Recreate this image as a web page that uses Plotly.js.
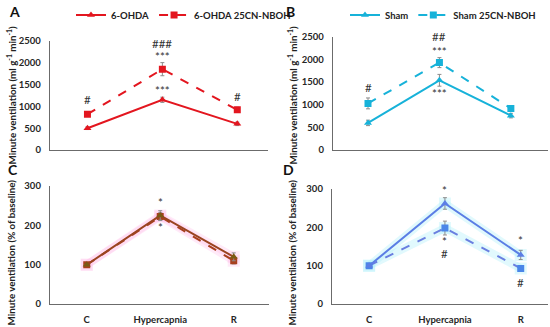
<!DOCTYPE html>
<html><head><meta charset="utf-8">
<script src="https://cdn.plot.ly/plotly-3.0.1.min.js"></script>
<style>html,body{margin:0;padding:0;background:#fff}#chart{width:550px;height:327px}</style>
</head><body><div id="chart"></div>
<script>
// ---- data ----
const categories = ['C', 'Hypercapnia', 'R'];

const aOhda = [500, 1150, 600];
const aOhdaErr = [30, 60, 40];
const aOhda25 = [820, 1850, 920];
const aOhda25Err = [40, 150, 60];

const bSham = [600, 1540, 760];
const bShamErr = [60, 130, 50];
const bSham25 = [1030, 1930, 920];
const bSham25Err = [120, 110, 40];

const cOhda = [100, 225, 120];
const cOhdaErr = [0, 12, 10];
const cOhda25 = [100, 222, 110];
const cOhda25Err = [0, 10, 8];

const dSham = [100, 262, 128];
const dShamErr = [0, 15, 12];
const dSham25 = [100, 198, 93];
const dSham25Err = [0, 18, 6];

const absTicks = [0, 500, 1000, 1500, 2000, 2500];
const pctTicks = [0, 100, 200, 300];

// significance marks
const sigCats = ['C', 'Hypercapnia', 'Hypercapnia', 'Hypercapnia', 'R'];
const sigA = [1160, 2440, 2150, 1365, 1230];
const sigAText = ['#', '###', '***', '***', '#'];
const sigBCats = ['C', 'Hypercapnia', 'Hypercapnia', 'Hypercapnia'];
const sigB = [1380, 2500, 2170, 1250];
const sigBText = ['#', '##', '***', '***'];
const sigCCats = ['Hypercapnia', 'Hypercapnia'];
const sigC = [257, 194];
const sigCText = ['*', '*'];
const sigDCats = ['Hypercapnia', 'Hypercapnia', 'Hypercapnia', 'R', 'R'];
const sigD = [295, 162, 132, 166, 57];
const sigDText = ['*', '*', '#', '*', '#'];

// ---- styling ----
const FONT = 'Lato, "Open Sans", sans-serif';
const errStyle = arr => ({type: 'data', array: arr, visible: true, color: '#8c8c8c', thickness: 1, width: 2});

function series(x, y, err, name, color, symbol, dash, xa, ya, legend, markerColor) {
  const t = {
    x: x, y: y, name: name, type: 'scatter', mode: 'lines+markers',
    xaxis: xa, yaxis: ya, showlegend: !!legend,
    line: {color: color, width: 2, dash: dash},
    marker: {symbol: symbol, size: 7, color: markerColor || color},
    error_y: errStyle(err), hoverinfo: 'skip'
  };
  if (legend) t.legend = legend;
  return t;
}
function glow(x, y, color, xa, ya) {
  return {x: x, y: y, type: 'scatter', mode: 'lines+markers', xaxis: xa, yaxis: ya,
    showlegend: false, hoverinfo: 'skip',
    line: {color: color, width: 8}, marker: {size: 12, symbol: 'square', color: color}};
}

const traces = [
  series(categories, aOhda, aOhdaErr, '6-OHDA', '#e3161f', 'triangle-up', 'solid', 'x', 'y', 'legend'),
  series(categories, aOhda25, aOhda25Err, '6-OHDA 25CN-NBOH', '#e3161f', 'square', 'dash', 'x', 'y', 'legend'),
  series(categories, bSham, bShamErr, 'Sham', '#17b2d9', 'triangle-up', 'solid', 'x2', 'y2', 'legend2'),
  series(categories, bSham25, bSham25Err, 'Sham 25CN-NBOH', '#17b2d9', 'square', 'dash', 'x2', 'y2', 'legend2'),
  glow(categories, cOhda, 'rgba(255,195,235,0.35)', 'x3', 'y3'),
  glow(categories, cOhda25, 'rgba(255,195,235,0.35)', 'x3', 'y3'),
  glow(categories, dSham, 'rgba(180,240,250,0.4)', 'x4', 'y4'),
  glow(categories, dSham25, 'rgba(180,240,250,0.4)', 'x4', 'y4'),
  series(categories, cOhda25, cOhda25Err, '', '#a8401e', 'square', 'dash', 'x3', 'y3', null),
  series(categories, cOhda, cOhdaErr, '', '#9a4420', 'triangle-up', 'solid', 'x3', 'y3', null, '#7a5a14'),
  series(categories, dSham25, dSham25Err, '', '#6a7fe0', 'square', 'dash', 'x4', 'y4', null, '#4a86e8'),
  series(categories, dSham, dShamErr, '', '#5b7ee5', 'triangle-up', 'solid', 'x4', 'y4', null)
];

const tickFont = {family: FONT, size: 9.5, color: '#262626', weight: 'bold'};
function xax(domain, range, showLabels, anchor) {
  return {domain: domain, range: range, type: 'category', anchor: anchor, showgrid: false, zeroline: false,
    showline: true, linecolor: '#6b6b6b', linewidth: 1.2, ticks: showLabels ? 'outside' : '',
    ticklen: 6, tickcolor: 'rgba(0,0,0,0)',
    showticklabels: showLabels, tickfont: tickFont, fixedrange: true};
}
function yax(domain, range, tickvals, anchor) {
  return {domain: domain, range: range, tickvals: tickvals, anchor: anchor, showgrid: false, zeroline: false,
    showline: true, linecolor: '#6b6b6b', linewidth: 1.2, ticks: 'outside', ticklen: 6,
    tickcolor: 'rgba(0,0,0,0)', tickfont: tickFont, fixedrange: true};
}

const annotations = [];
function addSig(cats, ys, texts, xref, yref) {
  for (let i = 0; i < cats.length; i++) {
    annotations.push({x: cats[i], y: ys[i], xref: xref, yref: yref, text: texts[i], showarrow: false,
      font: {family: FONT, size: 11.5, color: '#333333'}});
  }
}
addSig(sigCats, sigA, sigAText, 'x', 'y');
addSig(sigBCats, sigB, sigBText, 'x2', 'y2');
addSig(sigCCats, sigC, sigCText, 'x3', 'y3');
addSig(sigDCats, sigD, sigDText, 'x4', 'y4');

const letterFont = {family: FONT, size: 14, color: '#111', weight: 'bold'};
[['A', 14, 10], ['B', 290, 10], ['C', 13, 169], ['D', 288, 169]].forEach(([t, px, py]) => {
  annotations.push({text: t, x: px / 550, y: 1 - py / 327, xref: 'paper', yref: 'paper',
    showarrow: false, font: letterFont, xanchor: 'center', yanchor: 'middle'});
});
const titleFont = {family: FONT, size: 9.8, color: '#222', weight: 'bold'};
[['Minute ventilation (ml g<sup>-1</sup> min<sup>-1</sup>)', 11, 94],
 ['Minute ventilation (ml g<sup>-1</sup> min<sup>-1</sup>)', 292, 94],
 ['Minute ventilation (% of baseline)', 11, 252],
 ['Minute ventilation (% of baseline)', 292, 252]].forEach(([t, px, py]) => {
  annotations.push({text: t, x: px / 550, y: 1 - py / 327, xref: 'paper', yref: 'paper',
    showarrow: false, font: titleFont, textangle: -90, xanchor: 'center', yanchor: 'middle'});
});

const legFont = {family: FONT, size: 9.5, color: '#222', weight: 'bold'};
const layout = {
  width: 550, height: 327, margin: {l: 0, r: 0, t: 0, b: 0},
  paper_bgcolor: '#fff', plot_bgcolor: '#fff',
  font: {family: FONT},
  xaxis: xax([50 / 550, 268 / 550], [-0.5, 2.41], false, 'y'),
  yaxis: yax([1 - 149 / 327, 1 - 39 / 327], [0, 2500], absTicks, 'x'),
  xaxis2: xax([333 / 550, 548 / 550], [-0.49, 2.52], false, 'y2'),
  yaxis2: yax([1 - 149 / 327, 1 - 35 / 327], [0, 2500], absTicks, 'x2'),
  xaxis3: xax([50 / 550, 269 / 550], [-0.5, 2.48], true, 'y3'),
  yaxis3: yax([1 - 304 / 327, 1 - 185 / 327], [0, 300], pctTicks, 'x3'),
  xaxis4: xax([332 / 550, 548 / 550], [-0.49, 2.36], true, 'y4'),
  yaxis4: yax([1 - 304 / 327, 1 - 188 / 327], [0, 300], pctTicks, 'x4'),
  legend: {orientation: 'h', x: 71 / 550, y: 1 - 13 / 327, xanchor: 'left', yanchor: 'middle',
    font: legFont, bgcolor: 'rgba(0,0,0,0)', itemwidth: 30, tracegroupgap: 0},
  legend2: {orientation: 'h', x: 345 / 550, y: 1 - 13 / 327, xanchor: 'left', yanchor: 'middle',
    font: legFont, bgcolor: 'rgba(0,0,0,0)', itemwidth: 30, tracegroupgap: 0},
  annotations: annotations
};

Plotly.newPlot('chart', traces, layout, {displayModeBar: false, staticPlot: true});
</script></body></html>
